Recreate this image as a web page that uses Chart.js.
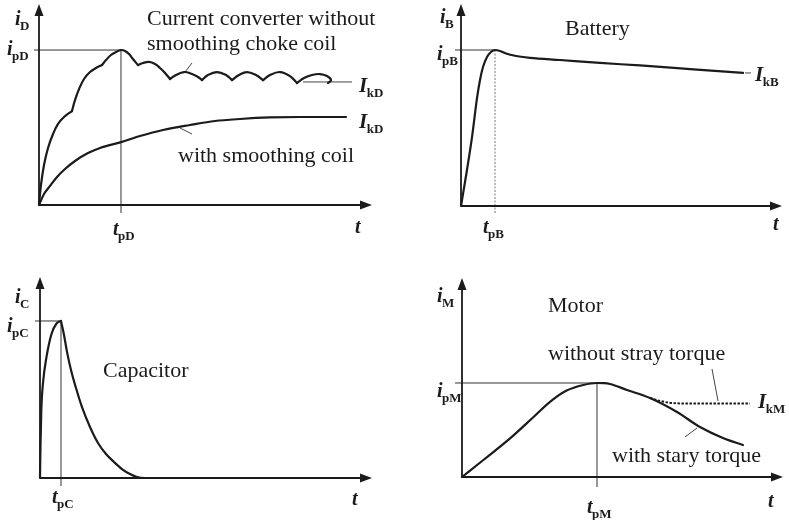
<!DOCTYPE html>
<html>
<head>
<meta charset="utf-8">
<script src="https://cdn.jsdelivr.net/npm/chart.js@4.4.1/dist/chart.umd.min.js"></script>
<style>
  html, body { margin: 0; padding: 0; background: #fff; }
  #fig { position: relative; width: 789px; height: 520px; overflow: hidden; }
  canvas { position: absolute; }
</style>
</head>
<body>
<div id="fig">
  <canvas id="pD" width="395" height="260" style="left:0;top:0"></canvas>
  <canvas id="pB" width="394" height="260" style="left:395px;top:0"></canvas>
  <canvas id="pC" width="395" height="260" style="left:0;top:260px"></canvas>
  <canvas id="pM" width="394" height="260" style="left:395px;top:260px"></canvas>
</div>
<script>
// Time in units of the peak time t_p, current in units of the peak current i_p.

// Current converter without smoothing choke coil (ripple arcs meet in cusps)
const converterT = [0, 0.024, 0.061, 0.110, 0.171, 0.232, 0.305, 0.402,
  0.439, 0.488, 0.549, 0.622, 0.695, 0.768,
  0.817, 0.878, 0.939, 1.000, 1.049, 1.098, 1.146, 1.207,
  1.268, 1.341, 1.415, 1.476, 1.537, 1.598,
  1.671, 1.768, 1.866, 1.939, 1.988,
  2.061, 2.171, 2.280, 2.354,
  2.439, 2.537, 2.646, 2.732,
  2.817, 2.939, 3.061, 3.146,
  3.232, 3.329, 3.427, 3.512, 3.561, 3.524];
const converterI = [0, 0.129, 0.258, 0.368, 0.458, 0.523, 0.568, 0.606,
  0.677, 0.748, 0.813, 0.858, 0.884, 0.903,
  0.935, 0.968, 0.987, 1.000, 0.994, 0.974, 0.942, 0.903,
  0.916, 0.923, 0.910, 0.884, 0.852, 0.813,
  0.839, 0.858, 0.845, 0.826, 0.806,
  0.839, 0.858, 0.839, 0.806,
  0.839, 0.858, 0.839, 0.806,
  0.839, 0.858, 0.832, 0.787,
  0.819, 0.839, 0.845, 0.832, 0.806, 0.787];
const converterCusps = [7, 13, 21, 27, 32, 36, 40, 44];
const converterSteady = 0.794;

// Current converter with smoothing coil
const smoothT = [0, 0.061, 0.134, 0.220, 0.317, 0.439, 0.598, 0.744, 1.000,
  1.232, 1.512, 1.841, 2.146, 2.451, 2.817, 3.183, 3.549, 3.744];
const smoothI = [0, 0.071, 0.123, 0.181, 0.232, 0.284, 0.335, 0.368, 0.406,
  0.445, 0.484, 0.516, 0.542, 0.555, 0.565, 0.568, 0.568, 0.568];

// Battery
const batteryT = [0, 0.088, 0.176, 0.324, 0.471, 0.559, 0.647, 0.765, 0.882, 1.000,
  1.147, 1.324, 1.588, 2.029, 2.912, 4.088, 5.265, 6.735, 8.294];
const batteryI = [0, 0.115, 0.231, 0.442, 0.692, 0.808, 0.891, 0.955, 0.987, 1.000,
  0.994, 0.978, 0.963, 0.950, 0.936, 0.917, 0.901, 0.878, 0.853];

// Capacitor
const capacitorT = [0, 0.024, 0.062, 0.143, 0.310, 0.548, 0.786, 1.000,
  1.143, 1.286, 1.476, 1.714, 2.000, 2.381, 2.762, 3.143, 3.524, 3.905,
  4.286, 4.619, 5.000, 9.048];
const capacitorI = [0, 0.210, 0.433, 0.605, 0.771, 0.917, 0.984, 1.000,
  0.911, 0.803, 0.688, 0.573, 0.452, 0.325, 0.223, 0.153, 0.102, 0.057,
  0.025, 0.006, 0, 0];
const capacitorCusps = [7];

// Motor with stray torque
const motorT = [0, 0.158, 0.356, 0.528, 0.652, 0.775, 0.899, 1.000,
  1.052, 1.096, 1.222, 1.393, 1.593, 1.763, 1.933, 2.081];
const motorI = [0, 0.181, 0.411, 0.636, 0.800, 0.920, 0.979, 1.000,
  0.998, 0.989, 0.926, 0.840, 0.691, 0.532, 0.415, 0.340];
// Motor without stray torque (branches off the common curve)
const motorNoStrayT = [1.393, 1.467, 1.556, 1.689, 1.911, 2.133];
const motorNoStrayI = [0.840, 0.809, 0.787, 0.782, 0.782, 0.782];

const INK = '#1b1b1b';
const SERIF = '"Liberation Serif", "DejaVu Serif", serif';

function toPoints(ts, is, from, to) {
  const pts = [];
  for (let k = from; k <= to; k++) pts.push({ x: ts[k], y: is[k] });
  return pts;
}
// Split a curve at its cusps so each arc is smoothed separately.
function arcs(ts, is, cusps) {
  const out = [];
  let start = 0;
  for (const c of [...cusps, ts.length - 1]) {
    out.push(toPoints(ts, is, start, c));
    start = c;
  }
  return out;
}
function lineSet(points, extra) {
  return Object.assign({
    data: points, showLine: true, borderColor: INK, borderWidth: 2.2,
    pointRadius: 0, tension: 0.4, fill: false, clip: false,
    borderCapStyle: 'round', borderJoinStyle: 'round'
  }, extra || {});
}
const MONO = { cubicInterpolationMode: 'monotone' };

// Italic bold symbol with an upright bold subscript
function symbol(ctx, main, sub, x, y, big) {
  ctx.save();
  ctx.fillStyle = INK;
  ctx.textAlign = 'left';
  ctx.textBaseline = 'alphabetic';
  ctx.font = 'italic bold ' + (big || 20) + 'px ' + SERIF;
  ctx.fillText(main, x, y);
  const w = ctx.measureText(main).width;
  if (sub) {
    ctx.font = 'bold 13px ' + SERIF;
    ctx.fillText(sub, x + w - 0.5, y + 5);
  }
  ctx.restore();
}

function decor(cfg) {
  return {
    id: 'decor',
    beforeDatasetsDraw(chart) {
      const ctx = chart.ctx, xs = chart.scales.x, ys = chart.scales.y;
      const X = v => xs.getPixelForValue(v), Y = v => ys.getPixelForValue(v);
      const x0 = X(0), y0 = Y(0), xe = X(cfg.xMax), ye = Y(cfg.yMax);
      ctx.save();
      // peak guide lines
      ctx.strokeStyle = '#333';
      ctx.lineWidth = 1;
      ctx.beginPath();
      ctx.moveTo(cfg.guideFrom, Y(1));
      ctx.lineTo(X(1), Y(1));
      ctx.stroke();
      if (cfg.dottedGuide) { ctx.setLineDash([2, 1.5]); ctx.strokeStyle = '#777'; }
      ctx.beginPath();
      ctx.moveTo(X(1), Y(1));
      ctx.lineTo(X(1), y0 + cfg.guideBelow);
      ctx.stroke();
      ctx.setLineDash([]);
      // axes with arrow heads
      ctx.strokeStyle = INK;
      ctx.fillStyle = INK;
      ctx.lineWidth = 1.8;
      ctx.beginPath();
      ctx.moveTo(x0, y0); ctx.lineTo(xe - 6, y0);
      ctx.moveTo(x0, y0); ctx.lineTo(x0, ye + 6);
      ctx.stroke();
      ctx.beginPath();
      ctx.moveTo(xe, y0); ctx.lineTo(xe - 12, y0 - 4.5); ctx.lineTo(xe - 12, y0 + 4.5); ctx.closePath();
      ctx.moveTo(x0, ye); ctx.lineTo(x0 - 4.5, ye + 12); ctx.lineTo(x0 + 4.5, ye + 12); ctx.closePath();
      ctx.fill();
      // leader lines
      ctx.strokeStyle = '#444';
      ctx.lineWidth = 1;
      for (const l of cfg.leaders || []) {
        ctx.beginPath(); ctx.moveTo(l[0], l[1]); ctx.lineTo(l[2], l[3]); ctx.stroke();
      }
      for (const r of cfg.refLines || []) {
        ctx.beginPath(); ctx.moveTo(r.from, Y(r.level)); ctx.lineTo(r.to, Y(r.level)); ctx.stroke();
      }
      ctx.restore();
    },
    afterDatasetsDraw(chart) {
      const ctx = chart.ctx, xs = chart.scales.x;
      const X = v => xs.getPixelForValue(v);
      ctx.save();
      ctx.fillStyle = INK;
      ctx.textBaseline = 'alphabetic';
      ctx.font = '22px ' + SERIF;
      for (const t of cfg.texts) ctx.fillText(t[0], t[1], t[2]);
      ctx.restore();
      for (const s of cfg.symbols) {
        const x = s.atPeak ? X(1) + s.x : s.x;
        symbol(ctx, s.main, s.sub, x, s.y, s.big);
      }
    }
  };
}

function panel(id, cfg) {
  new Chart(document.getElementById(id), {
    type: 'scatter',
    data: { datasets: cfg.datasets },
    options: {
      responsive: false,
      animation: false,
      events: [],
      layout: { padding: cfg.pad },
      scales: {
        x: { type: 'linear', display: false, min: 0, max: cfg.xMax },
        y: { type: 'linear', display: false, min: 0, max: cfg.yMax }
      },
      plugins: { legend: { display: false }, tooltip: { enabled: false } }
    },
    plugins: [decor(cfg)]
  });
}

panel('pD', {
  pad: { left: 39, right: 23, top: 4, bottom: 55 },
  xMax: 4.061, yMax: 1.297,
  guideFrom: 34, guideBelow: 8,
  datasets: [
    ...arcs(converterT, converterI, converterCusps).map(p => lineSet(p)),
    lineSet(toPoints(smoothT, smoothI, 0, smoothT.length - 1), MONO)
  ],
  refLines: [{ from: 303, to: 352, level: converterSteady }],
  leaders: [[192, 63, 185, 72], [180, 128, 192, 134]],
  texts: [['Current converter without', 147, 25], ['smoothing choke coil', 147, 50],
          ['with smoothing coil', 178, 162]],
  symbols: [
    { main: 'i', sub: 'D', x: 15, y: 25 },
    { main: 'i', sub: 'pD', x: 7, y: 55 },
    { main: 't', sub: 'pD', x: -8, y: 235, atPeak: true },
    { main: 't', sub: '', x: 355, y: 233 },
    { main: 'I', sub: 'kD', x: 359, y: 92, big: 21 },
    { main: 'I', sub: 'kD', x: 359, y: 128, big: 21 }
  ]
});

panel('pB', {
  pad: { left: 66, right: 7, top: 4, bottom: 54 },
  xMax: 9.441, yMax: 1.295,
  guideFrom: 60, guideBelow: 8, dottedGuide: true,
  datasets: [lineSet(toPoints(batteryT, batteryI, 0, batteryT.length - 1), MONO)],
  refLines: [{ from: 350, to: 356, level: batteryI[batteryI.length - 1] }],
  texts: [['Battery', 170, 35]],
  symbols: [
    { main: 'i', sub: 'B', x: 45, y: 23 },
    { main: 'i', sub: 'pB', x: 42, y: 60 },
    { main: 't', sub: 'pB', x: -12, y: 233, atPeak: true },
    { main: 't', sub: '', x: 378, y: 230 },
    { main: 'I', sub: 'kB', x: 360, y: 81, big: 21 }
  ]
});

panel('pC', {
  pad: { left: 40, right: 23, top: 17, bottom: 42 },
  xMax: 15.81, yMax: 1.280,
  guideFrom: 35, guideBelow: 8,
  datasets: arcs(capacitorT, capacitorI, capacitorCusps).map(p => lineSet(p, MONO)),
  texts: [['Capacitor', 103, 117]],
  symbols: [
    { main: 'i', sub: 'C', x: 15, y: 43 },
    { main: 'i', sub: 'pC', x: 7, y: 72 },
    { main: 't', sub: 'pC', x: -9, y: 243, atPeak: true },
    { main: 't', sub: '', x: 352, y: 245 }
  ]
});

panel('pM', {
  pad: { left: 67, right: 6, top: 18, bottom: 43 },
  xMax: 2.378, yMax: 2.117,
  guideFrom: 60, guideBelow: 10,
  datasets: [
    lineSet(toPoints(motorT, motorI, 0, motorT.length - 1), MONO),
    lineSet(toPoints(motorNoStrayT, motorNoStrayI, 0, motorNoStrayT.length - 1),
            Object.assign({ borderDash: [2.5, 1.5], borderWidth: 2, borderCapStyle: 'butt' }, MONO))
  ],
  leaders: [[317, 109, 323, 141], [302, 168, 290, 177]],
  texts: [['Motor', 153, 52], ['without stray torque', 153, 100], ['with stary torque', 217, 202]],
  symbols: [
    { main: 'i', sub: 'M', x: 42, y: 42 },
    { main: 'i', sub: 'pM', x: 42, y: 137 },
    { main: 't', sub: 'pM', x: -10, y: 253, atPeak: true },
    { main: 't', sub: '', x: 373, y: 247 },
    { main: 'I', sub: 'kM', x: 363, y: 148, big: 21 }
  ]
});
</script>
</body>
</html>
